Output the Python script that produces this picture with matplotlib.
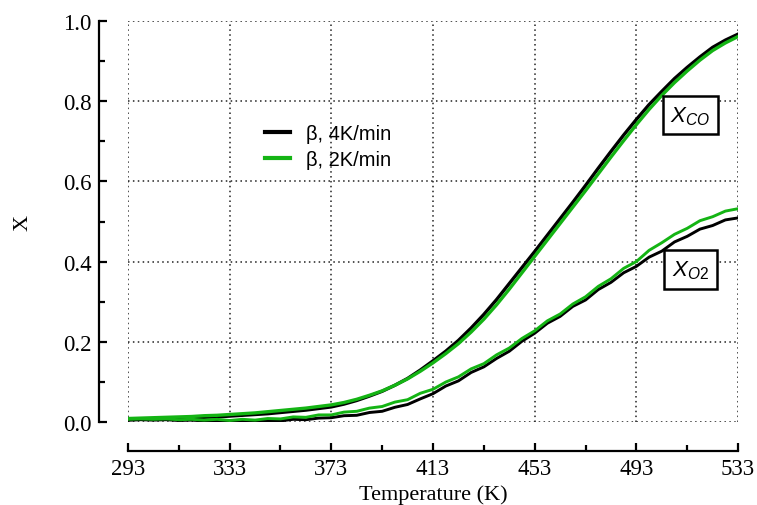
import numpy as np
import matplotlib
matplotlib.use('Agg')
from matplotlib import pyplot as plt

plt.rcParams['mathtext.fontset'] = 'custom'
plt.rcParams['mathtext.it'] = 'Liberation Sans:italic'
plt.rcParams['mathtext.rm'] = 'Liberation Sans'

# temperature grid (K), 5 K steps
temp = np.arange(293, 534, 5)

# CO conversion
co_4k = [0.005, 0.006, 0.007, 0.008, 0.009, 0.010, 0.011, 0.012, 0.014, 0.016,
         0.018, 0.020, 0.023, 0.026, 0.029, 0.033, 0.037, 0.044, 0.053, 0.064,
         0.076, 0.091, 0.108, 0.129, 0.152, 0.176, 0.203, 0.234, 0.268, 0.305,
         0.345, 0.385, 0.425, 0.466, 0.507, 0.548, 0.590, 0.633, 0.675, 0.716,
         0.755, 0.792, 0.825, 0.857, 0.885, 0.911, 0.935, 0.953, 0.968]
co_2k = [0.008, 0.009, 0.010, 0.011, 0.012, 0.013, 0.015, 0.016, 0.018, 0.020,
         0.022, 0.025, 0.028, 0.031, 0.034, 0.038, 0.042, 0.048, 0.056, 0.066,
         0.077, 0.091, 0.107, 0.126, 0.147, 0.170, 0.195, 0.224, 0.256, 0.292,
         0.331, 0.372, 0.413, 0.454, 0.495, 0.536, 0.577, 0.619, 0.661, 0.702,
         0.742, 0.780, 0.815, 0.847, 0.876, 0.903, 0.927, 0.946, 0.962]

# O2 conversion
o2_4k = [0.004, 0.005, 0.004, 0.005, 0.003, 0.004, 0.002, 0.003, 0.001, 0.003,
         0.000, 0.003, 0.002, 0.006, 0.005, 0.009, 0.010, 0.015, 0.016, 0.023,
         0.026, 0.036, 0.043, 0.057, 0.070, 0.089, 0.102, 0.123, 0.137, 0.158,
         0.176, 0.201, 0.221, 0.246, 0.263, 0.288, 0.304, 0.330, 0.348, 0.372,
         0.388, 0.411, 0.426, 0.449, 0.463, 0.481, 0.490, 0.504, 0.509]
o2_2k = [0.006, 0.007, 0.006, 0.007, 0.005, 0.006, 0.004, 0.006, 0.003, 0.006,
         0.004, 0.008, 0.007, 0.012, 0.011, 0.017, 0.017, 0.024, 0.026, 0.034,
         0.038, 0.049, 0.055, 0.071, 0.081, 0.099, 0.112, 0.132, 0.145, 0.167,
         0.184, 0.208, 0.227, 0.252, 0.269, 0.294, 0.312, 0.338, 0.357, 0.383,
         0.400, 0.428, 0.447, 0.468, 0.483, 0.502, 0.512, 0.526, 0.532]

xticks = [293, 333, 373, 413, 453, 493, 533]
yticks = [0.0, 0.2, 0.4, 0.6, 0.8, 1.0]

black = '#000000'
green = '#14b414'

fig = plt.figure(figsize=(7.57, 5.06), dpi=100)
ax = fig.add_axes([0.169, 0.1646, 0.806, 0.7913])

l1, = ax.plot(temp, co_4k, color=black, lw=2.4, label='β, 4K/min')
l2, = ax.plot(temp, co_2k, color=green, lw=2.4, label='β, 2K/min')
ax.plot(temp, o2_4k, color=black, lw=2.1)
ax.plot(temp, o2_2k, color=green, lw=2.1)

ax.set_xlim(293, 533)
ax.set_ylim(0, 1.0)
ax.set_xticks(xticks)
ax.set_yticks(yticks)
ax.set_xticks([313, 353, 393, 433, 473, 513], minor=True)
ax.set_yticks([0.1, 0.3, 0.5, 0.7, 0.9], minor=True)
ax.set_yticklabels(['%.1f' % v for v in yticks])

# dotted grid at the major ticks
ax.grid(True, which='major', color='#222222', linestyle=(0, (1, 2.2)), lw=1.1)

for s in ['top', 'right']:
    ax.spines[s].set_visible(False)
for s in ['left', 'bottom']:
    ax.spines[s].set_position(('outward', 21))
    ax.spines[s].set_linewidth(1.6)

ax.tick_params(which='major', direction='in', length=6, width=1.6,
               labelsize=16.5, pad=5)
ax.tick_params(which='minor', direction='in', length=4, width=1.6)
for lab in ax.get_xticklabels() + ax.get_yticklabels():
    lab.set_fontfamily('Liberation Serif')

ax.set_xlabel('Temperature (K)', fontfamily='Liberation Serif', fontsize=16,
              labelpad=4)
ax.set_ylabel('X', fontfamily='Liberation Serif', fontsize=16, labelpad=22)

leg = ax.legend(handles=[l1, l2], loc='center left', bbox_to_anchor=(0.195, 0.687),
                frameon=False, handlelength=1.25, handletextpad=0.8,
                labelspacing=0.35, prop={'family': 'Liberation Sans', 'size': 14.5})
for line in leg.get_lines():
    line.set_linewidth(3)

box = dict(boxstyle='square,pad=0.35', fc='white', ec='black', lw=1.8)
ax.text(514.3, 0.765, r'$X_{CO}$', fontsize=16, ha='center', va='center', bbox=box)
ax.text(514.3, 0.38, r'$X_{O2}$', fontsize=16, ha='center', va='center', bbox=box)

fig.savefig('out.png', dpi=100)
